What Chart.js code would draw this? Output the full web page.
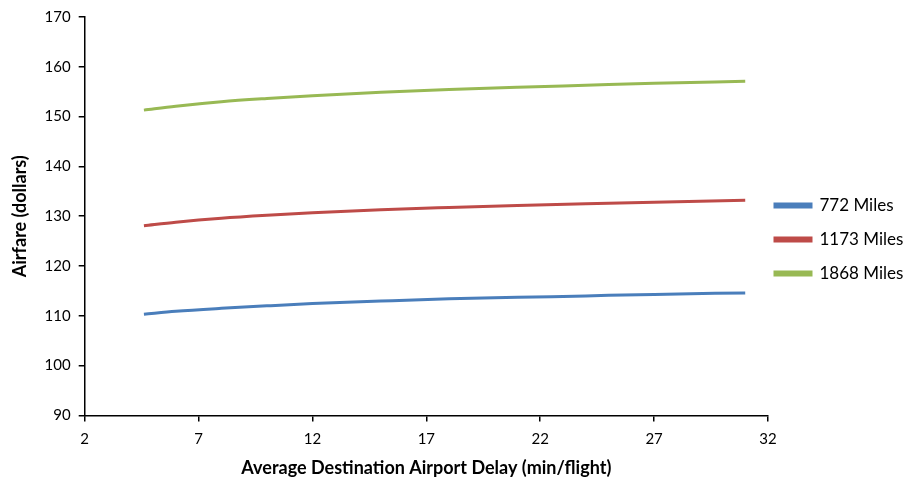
<!DOCTYPE html>
<html>
<head>
<meta charset="utf-8">
<script src="https://cdn.jsdelivr.net/npm/chart.js@4"></script>
<style>
  html, body { margin: 0; padding: 0; background: #fff; }
  #wrap { width: 906px; height: 479px; }
</style>
</head>
<body>
<div id="wrap"><canvas id="fareChart" width="906" height="479"></canvas></div>
<script>
// delay values (min/flight) where the curves were read
const delays = [4.6, 6, 8, 10, 12, 15, 18, 21, 24, 27, 31];

// airfare (dollars) per distance
const miles772 = [110.3, 110.9, 111.5, 112.0, 112.45, 112.95, 113.4, 113.7, 114.0, 114.3, 114.6];
const miles1173 = [128.1, 128.8, 129.6, 130.2, 130.7, 131.3, 131.75, 132.15, 132.5, 132.8, 133.2];
const miles1868 = [151.3, 152.1, 153.0, 153.65, 154.2, 154.9, 155.45, 155.9, 156.3, 156.7, 157.1];

const seriesNames = ['772 Miles', '1173 Miles', '1868 Miles'];
const seriesColors = ['#4a7ebb', '#be4b48', '#98b954'];

const xTicks = [2, 7, 12, 17, 22, 27, 32];
const yTicks = [90, 100, 110, 120, 130, 140, 150, 160, 170];

function toPoints(values) {
  return values.map((v, i) => ({ x: delays[i], y: v }));
}

const font = 'Lato, "Open Sans", sans-serif';

// pull the legend a little closer to the plot, like the original
// (only the left edge moves, so the clip box still reaches the canvas edge)
const legendNudge = {
  id: 'legendNudge',
  afterLayout(chart) {
    if (chart.legend) {
      chart.legend.left -= 10;
      chart.legend.width += 10;
    }
  }
};

new Chart(document.getElementById('fareChart'), {
  type: 'line',
  data: {
    datasets: [miles772, miles1173, miles1868].map((vals, i) => ({
      label: seriesNames[i],
      data: toPoints(vals),
      borderColor: seriesColors[i],
      backgroundColor: seriesColors[i],
      borderWidth: 3,
      pointRadius: 0,
      cubicInterpolationMode: 'monotone',
      fill: false
    }))
  },
  plugins: [legendNudge],
  options: {
    responsive: false,
    animation: false,
    layout: { padding: { top: 0, right: 0, left: 9, bottom: 0 } },
    plugins: {
      tooltip: { enabled: false },
      legend: {
        position: 'right',
        maxWidth: 138,
        labels: {
          boxWidth: 36,
          boxHeight: 3,
          padding: 17,
          color: '#000',
          font: { family: font, size: 17 }
        }
      }
    },
    scales: {
      x: {
        type: 'linear',
        min: 2,
        max: 32,
        afterBuildTicks: axis => { axis.ticks = xTicks.map(v => ({ value: v })); },
        border: { color: '#000', width: 1.5 },
        grid: { drawOnChartArea: false, color: '#000', tickLength: 6, lineWidth: 1.5 },
        ticks: { color: '#000', font: { family: font, size: 15 }, padding: 9, maxRotation: 0 },
        title: {
          display: true,
          text: 'Average Destination Airport Delay (min/flight)',
          color: '#000',
          font: { family: font, size: 18, weight: 'bold' },
          padding: { top: 0, bottom: 0 }
        }
      },
      y: {
        min: 90,
        max: 170,
        afterBuildTicks: axis => { axis.ticks = yTicks.map(v => ({ value: v })); },
        border: { color: '#000', width: 1.5 },
        grid: { drawOnChartArea: false, color: '#000', tickLength: 6, lineWidth: 1.5 },
        ticks: { color: '#000', font: { family: font, size: 15 }, padding: 8 },
        title: {
          display: true,
          text: 'Airfare (dollars)',
          color: '#000',
          font: { family: font, size: 18, weight: 'bold' },
          padding: { top: 0, bottom: 6 }
        }
      }
    }
  }
});
</script>
</body>
</html>
